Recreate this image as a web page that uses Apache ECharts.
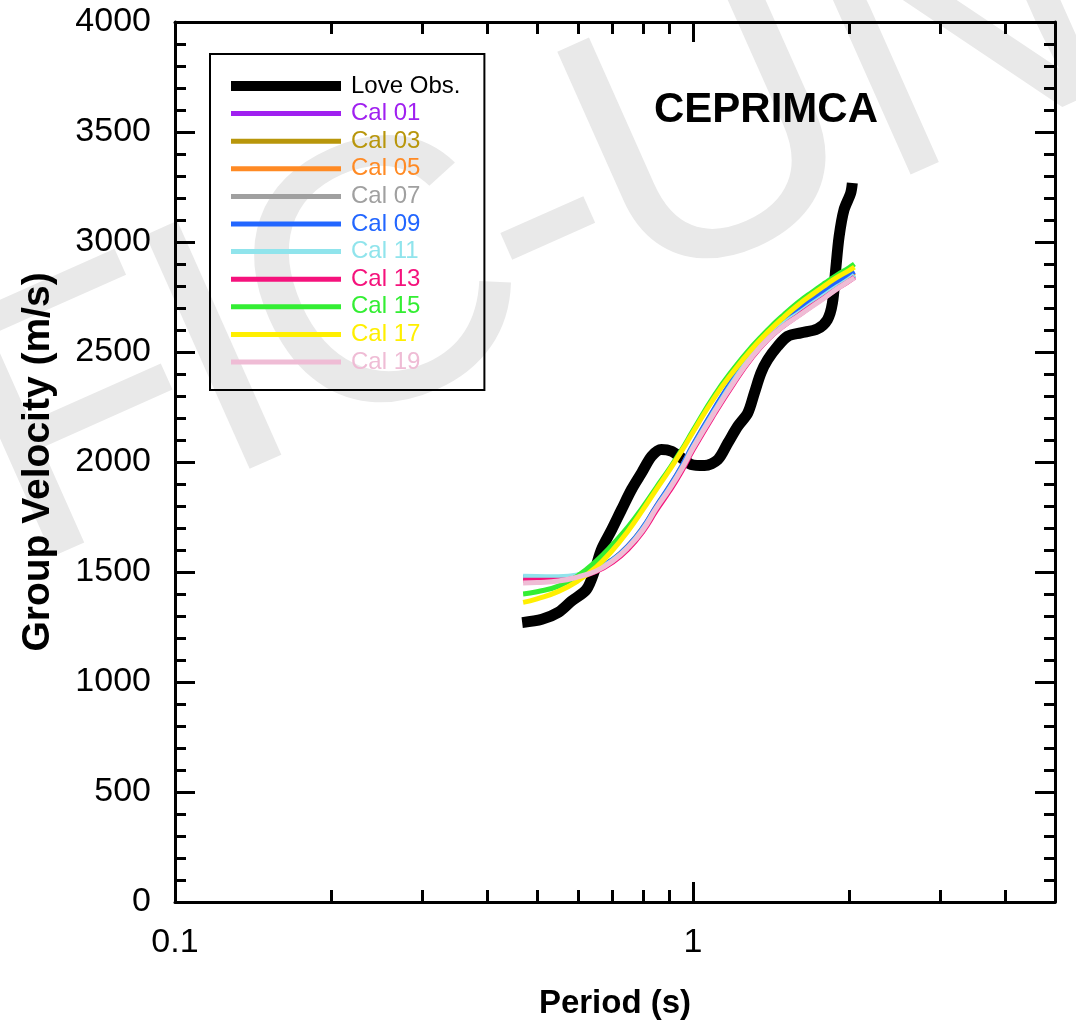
<!DOCTYPE html>
<html>
<head>
<meta charset="utf-8">
<title>CEPRIMCA – Love wave group velocity</title>
<script src="https://cdn.jsdelivr.net/npm/echarts@6/dist/echarts.min.js"></script>
<style>
  html, body { margin: 0; padding: 0; background: #fff; }
  #chart { width: 1076px; height: 1025px; }
</style>
</head>
<body>
<div id="chart"></div>
<script>
// Observed Love-wave group velocity dispersion (period in s, velocity in m/s)
const obsPeriod = [0.468, 0.511, 0.550, 0.583, 0.623, 0.647, 0.666, 0.697, 0.728, 0.761,
  0.796, 0.832, 0.869, 0.909, 0.950, 0.992, 1.053, 1.117, 1.168, 1.221,
  1.276, 1.314, 1.353, 1.394, 1.457, 1.523, 1.616, 1.739, 1.818, 1.859,
  1.886, 1.915, 1.957, 2.016, 2.031];
const obsVelocity = [1270, 1285, 1317, 1368, 1421, 1512, 1603, 1693, 1784, 1875,
  1951, 2026, 2057, 2049, 2019, 1989, 1984, 2011, 2087, 2163,
  2223, 2314, 2405, 2465, 2526, 2571, 2587, 2605, 2647, 2723,
  2874, 3025, 3146, 3222, 3268];

// Periods at which the calculated curves are sampled
const calPeriod = [0.47, 0.5, 0.55, 0.6, 0.65, 0.7, 0.75, 0.8, 0.85, 0.9, 0.95, 1.0,
  1.1, 1.2, 1.3, 1.4, 1.5, 1.6, 1.7, 1.8, 1.9, 2.0, 2.05];

// Calculated group velocities (m/s) for each model
const cal01 = [1470, 1469, 1468, 1480, 1508, 1552, 1614, 1694, 1793, 1880, 1970, 2068, 2232, 2372, 2486, 2570, 2630, 2676, 2720, 2760, 2797, 2830, 2846];
const cal03 = [1468, 1467, 1467, 1481, 1509, 1554, 1617, 1697, 1795, 1882, 1973, 2071, 2236, 2376, 2490, 2575, 2636, 2682, 2726, 2766, 2803, 2837, 2853];
const cal05 = [1472, 1471, 1470, 1483, 1511, 1556, 1619, 1700, 1798, 1886, 1977, 2075, 2240, 2381, 2496, 2581, 2642, 2689, 2733, 2774, 2811, 2845, 2861];
const cal07 = [1475, 1474, 1472, 1484, 1510, 1554, 1616, 1696, 1794, 1881, 1971, 2069, 2234, 2374, 2488, 2573, 2633, 2679, 2723, 2762, 2799, 2832, 2848];
const cal09 = [1476, 1475, 1473, 1485, 1512, 1557, 1620, 1701, 1800, 1888, 1979, 2077, 2243, 2384, 2499, 2585, 2646, 2693, 2738, 2779, 2817, 2851, 2866];
const cal11 = [1481, 1480, 1478, 1486, 1510, 1553, 1614, 1694, 1792, 1879, 1969, 2067, 2231, 2371, 2485, 2570, 2630, 2676, 2720, 2760, 2797, 2830, 2850];
const cal13 = [1463, 1462, 1462, 1476, 1502, 1545, 1605, 1683, 1780, 1866, 1956, 2054, 2218, 2358, 2474, 2560, 2620, 2667, 2711, 2750, 2788, 2822, 2840];
const cal15 = [1400, 1410, 1436, 1484, 1550, 1626, 1706, 1795, 1885, 1969, 2054, 2143, 2303, 2426, 2525, 2605, 2671, 2727, 2773, 2814, 2851, 2883, 2900];
const cal17 = [1362, 1378, 1412, 1460, 1522, 1600, 1688, 1782, 1876, 1962, 2048, 2135, 2293, 2415, 2514, 2594, 2660, 2716, 2762, 2803, 2840, 2870, 2886];
const cal19 = [1450, 1452, 1459, 1478, 1505, 1550, 1612, 1690, 1790, 1875, 1965, 2062, 2225, 2363, 2478, 2562, 2620, 2665, 2708, 2748, 2788, 2822, 2837];

const obsName = 'Love Obs.';
const calNames = ['Cal 01', 'Cal 03', 'Cal 05', 'Cal 07', 'Cal 09', 'Cal 11', 'Cal 13', 'Cal 15', 'Cal 17', 'Cal 19'];
const calValues = [cal01, cal03, cal05, cal07, cal09, cal11, cal13, cal15, cal17, cal19];

// Axis ticks
const xMajorTicks = [0.1, 1];
const xMinorTicks = [0.2, 0.3, 0.4, 0.5, 0.6, 0.7, 0.8, 0.9, 2, 3, 4];
const xMin = 0.1, xMax = 5;
const yMin = 0, yMax = 4000, yStep = 500;

// Line colours for the calculated curves
const calColors = ['#a020f0', '#b8960b', '#ff8a24', '#a0a0a0', '#2266ff',
  '#90e4ec', '#f5127c', '#33ee33', '#ffef00', '#efbcd5'];

const FONT = '"Liberation Sans", Arial, Helvetica, sans-serif';

// Legend swatches: flat bars, thick for the observation, thin for the models
const ICON_THICK = 'path://M0,0H110V10H0Z';
const ICON_THIN = 'path://M0,0H110V5H0Z';

function pairs(xs, ys) { return xs.map((x, i) => [x, ys[i]]); }

const series = [{
  name: obsName,
  type: 'line',
  data: pairs(obsPeriod, obsVelocity),
  symbol: 'none',
  smooth: 0.3,
  lineStyle: { color: '#000', width: 11, cap: 'butt', join: 'round' },
  itemStyle: { color: '#000' }
}];
calNames.forEach((name, i) => {
  series.push({
    name: name,
    type: 'line',
    data: pairs(calPeriod, calValues[i]),
    symbol: 'none',
    smooth: true,
    lineStyle: { color: calColors[i], width: 5, cap: 'butt' },
    itemStyle: { color: calColors[i] }
  });
});

const legendData = [{ name: obsName, icon: ICON_THICK, textStyle: { color: '#000' } }].concat(
  calNames.map((n, i) => ({ name: n, icon: ICON_THIN, textStyle: { color: calColors[i] } }))
);

const axisLineStyle = { color: '#000', width: 3 };

function logAxis(position, ticks, tickLen, withLine, withLabels) {
  return {
    type: 'log',
    logBase: 10,
    min: xMin,
    max: xMax,
    position: position,
    axisLine: { show: withLine, onZero: false, lineStyle: axisLineStyle },
    axisTick: { show: true, inside: true, length: tickLen, customValues: ticks, lineStyle: axisLineStyle },
    axisLabel: withLabels ? {
      show: true, customValues: xMajorTicks, margin: 24,
      color: '#000', fontSize: 34, fontFamily: FONT,
      formatter: v => String(+(+v).toPrecision(6))
    } : { show: false },
    splitLine: { show: false },
    minorTick: { show: false },
    minorSplitLine: { show: false }
  };
}

function valueAxis(position, withLabels) {
  return {
    type: 'value',
    min: yMin,
    max: yMax,
    interval: yStep,
    position: position,
    axisLine: { show: true, onZero: false, lineStyle: axisLineStyle },
    axisTick: { show: true, inside: true, length: 20, lineStyle: axisLineStyle },
    minorTick: { show: true, splitNumber: 5, length: 11, lineStyle: axisLineStyle },
    axisLabel: withLabels ? {
      show: true, margin: 24, color: '#000', fontSize: 34, fontFamily: FONT,
      formatter: v => String(v)
    } : { show: false },
    splitLine: { show: false },
    minorSplitLine: { show: false }
  };
}

const xBottom = logAxis('bottom', xMajorTicks, 20, true, true);
xBottom.name = 'Period (s)';
xBottom.nameLocation = 'middle';
xBottom.nameGap = 85;
xBottom.nameTextStyle = { color: '#000', fontSize: 33, fontWeight: 'bold', fontFamily: FONT };

const yLeft = valueAxis('left', true);
yLeft.name = 'Group Velocity (m/s)';
yLeft.nameLocation = 'middle';
yLeft.nameGap = 117;
yLeft.nameTextStyle = { color: '#000', fontSize: 39, fontWeight: 'bold', fontFamily: FONT };

// Faint background lettering
const markLetters = [
  { t: 'F', u: -88 }, { t: 'I', u: 62 }, { t: 'C', u: 239 },
  { t: '-', u: 415 }, { t: 'U', u: 601 }, { t: 'N', u: 872 }
];

const option = {
  animation: false,
  backgroundColor: '#fff',
  title: {
    text: 'CEPRIMCA',
    left: 654,
    top: 89,
    padding: 0,
    textStyle: { color: '#000', fontSize: 42, fontWeight: 'bold', fontFamily: FONT }
  },
  graphic: [{
    type: 'group',
    x: 220,
    y: 512,
    rotation: 24 * Math.PI / 180,
    z: -10,
    silent: true,
    children: markLetters.map(l => ({
      type: 'text',
      x: l.u,
      y: -130,
      z: -10,
      style: {
        text: l.t,
        fontSize: 372,
        fontFamily: FONT,
        fill: '#e9e9e9',
        align: 'center',
        verticalAlign: 'middle',
        textAlign: 'center',
        textVerticalAlign: 'middle'
      }
    }))
  }],
  legend: {
    orient: 'vertical',
    left: 210,
    top: 54,
    padding: [20, 24, 16, 21],
    itemWidth: 110,
    itemHeight: 14,
    itemGap: 3.6,
    borderColor: '#000',
    borderWidth: 2,
    backgroundColor: 'transparent',
    selectedMode: false,
    textStyle: { fontSize: 24, lineHeight: 24, fontFamily: FONT, padding: [0, 0, 0, 5] },
    data: legendData
  },
  grid: {
    left: 175,
    right: 21,
    top: 22,
    bottom: 122,
    containLabel: false
  },
  xAxis: [
    xBottom,
    logAxis('bottom', xMinorTicks, 12, false, false),
    logAxis('top', xMajorTicks, 20, true, false),
    logAxis('top', xMinorTicks, 12, false, false)
  ],
  yAxis: [
    yLeft,
    valueAxis('right', false)
  ],
  series: series
};

const chart = echarts.init(document.getElementById('chart'), null, { renderer: 'canvas' });
chart.setOption(option);
</script>
</body>
</html>
